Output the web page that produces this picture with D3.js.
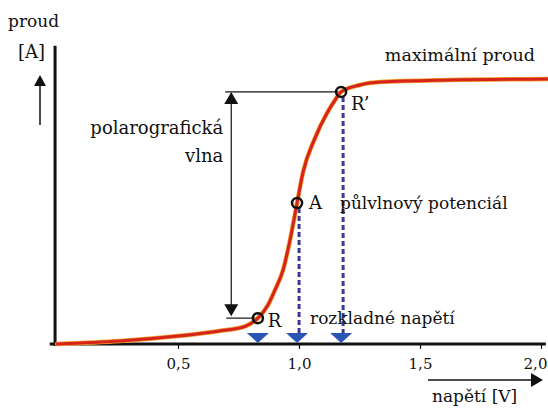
<!DOCTYPE html>
<html>
<head>
<meta charset="utf-8">
<script src="https://cdn.jsdelivr.net/npm/d3@7"></script>
<style>
  body { margin: 0; background: #fff; }
  text { font-family: "DejaVu Serif", serif; font-size: 17px; fill: #111; }
</style>
</head>
<body>
<figure id="chart" style="margin:0"></figure>
<script>
// polarographic wave: voltage [V] vs current (relative to limiting current)
const voltage = [0, 0.26, 0.5, 0.67, 0.78, 0.83, 0.872, 0.901, 0.934, 0.963, 0.992, 1.017, 1.066, 1.116, 1.149, 1.174, 1.252, 1.335, 1.62, 2.04]
const current = [0, 0.011, 0.03, 0.049, 0.068, 0.098, 0.148, 0.205, 0.28, 0.394, 0.534, 0.652, 0.78, 0.875, 0.924, 0.955, 0.981, 0.992, 1.0, 1.004]

const pointLabels = ["R", "A", "R’"]
const pointVoltage = [0.83, 0.992, 1.174]
const pointCurrent = [0.098, 0.534, 0.955]
const pointNotes = ["rozkladné napětí", "půlvlnový potenciál", ""]

const xTicks = [0.5, 1.0, 1.5, 2.0]
const xTickLabels = ["0,5", "1,0", "1,5", "2,0"]

const width = 548, height = 408

const svg = d3.select("#chart").append("svg")
  .attr("width", width).attr("height", height)

const x = d3.scaleLinear().domain([0, 2]).range([57, 541])
const y = d3.scaleLinear().domain([0, 1]).range([344, 80])

// axes
svg.append("line")
  .attr("x1", x(-0.03)).attr("x2", x(2.02))
  .attr("y1", y(0)).attr("y2", y(0))
  .attr("stroke", "#111").attr("stroke-width", 3)

svg.append("line")
  .attr("x1", x(-0.008)).attr("x2", x(-0.008))
  .attr("y1", y(0) + 2).attr("y2", y(1.13))
  .attr("stroke", "#111").attr("stroke-width", 3)

const xAxis = svg.append("g")
  .attr("transform", `translate(0,${y(0)})`)
  .call(d3.axisBottom(x).tickValues(xTicks).tickSize(5).tickFormat((d, i) => xTickLabels[i]))
xAxis.select(".domain").remove()
xAxis.selectAll(".tick line").attr("stroke", "#111").attr("stroke-width", 1.2)
xAxis.selectAll(".tick text")
  .attr("y", 14)
  .attr("dx", (d, i) => i === xTicks.length - 1 ? -6 : 0)
  .style("font-family", "DejaVu Serif, serif").style("font-size", "15px").attr("fill", "#111")

// dashed drop lines (A, R')
svg.selectAll(".drop")
  .data([1, 2])
  .enter().append("line")
  .attr("x1", i => x(pointVoltage[i]) + 2).attr("x2", i => x(pointVoltage[i]) + 2)
  .attr("y1", i => y(pointCurrent[i]) + 5).attr("y2", y(0) - 4)
  .attr("stroke", "#3b3a8f").attr("stroke-width", 3)
  .attr("stroke-dasharray", "5,3")

// blue markers on the axis
svg.selectAll(".tri")
  .data(pointVoltage)
  .enter().append("path")
  .attr("d", d => `M${x(d) - 11},${y(0) - 11} L${x(d) + 11},${y(0) - 11} L${x(d)},${y(0) - 1} Z`)
  .attr("fill", "#2a55b5")

// bracket for the wave height
const bracketV = 0.72
const bx = x(bracketV)
svg.append("line")
  .attr("x1", bx - 6).attr("x2", x(pointVoltage[2]))
  .attr("y1", y(pointCurrent[2])).attr("y2", y(pointCurrent[2]))
  .attr("stroke", "#111").attr("stroke-width", 1.2)
svg.append("line")
  .attr("x1", bx - 5).attr("x2", x(pointVoltage[0]))
  .attr("y1", y(pointCurrent[0])).attr("y2", y(pointCurrent[0]))
  .attr("stroke", "#111").attr("stroke-width", 1.2)
svg.append("line")
  .attr("x1", bx).attr("x2", bx)
  .attr("y1", y(pointCurrent[2]) + 4).attr("y2", y(pointCurrent[0]) - 4)
  .attr("stroke", "#111").attr("stroke-width", 1.2)
svg.append("path")
  .attr("d", `M${bx},${y(pointCurrent[2])} l-7,12 l14,0 Z`).attr("fill", "#111")
svg.append("path")
  .attr("d", `M${bx},${y(pointCurrent[0]) - 2} l-7,-12 l14,0 Z`).attr("fill", "#111")

// curve
const line = d3.line()
  .x(i => x(voltage[i]))
  .y(i => y(current[i]))
  .curve(d3.curveMonotoneX)

svg.append("path")
  .datum(d3.range(voltage.length))
  .attr("d", line)
  .attr("fill", "none")
  .attr("stroke", "#f0a030").attr("stroke-width", 4.5)
  .attr("stroke-linecap", "round")
svg.append("path")
  .datum(d3.range(voltage.length))
  .attr("d", line)
  .attr("fill", "none")
  .attr("stroke", "#d8231a").attr("stroke-width", 3)
  .attr("stroke-linecap", "round")

// points
svg.selectAll(".pt")
  .data(pointVoltage)
  .enter().append("circle")
  .attr("cx", d => x(d))
  .attr("cy", (d, i) => y(pointCurrent[i]))
  .attr("r", 5)
  .attr("fill", "none")
  .attr("stroke", "#111").attr("stroke-width", 2.5)

const labelOffset = [[10, 9], [12, 6], [10, 18]]
svg.selectAll(".plabel")
  .data(pointLabels)
  .enter().append("text")
  .attr("x", (d, i) => x(pointVoltage[i]) + labelOffset[i][0])
  .attr("y", (d, i) => y(pointCurrent[i]) + labelOffset[i][1])
  .style("font-size", "18px")
  .text(d => d)

svg.append("text").attr("x", 310).attr("y", 324).text(pointNotes[0])
svg.append("text").attr("x", 340).attr("y", 209).text(pointNotes[1])
svg.append("text").attr("x", 535).attr("y", 61).attr("text-anchor", "end").style("font-size", "17.5px").text("maximální proud")

svg.append("text").attr("x", bx - 8).attr("y", 134).attr("text-anchor", "end").style("font-size", "18px").text("polarografická")
svg.append("text").attr("x", bx - 8).attr("y", 162).attr("text-anchor", "end").style("font-size", "18px").text("vlna")

// axis titles with arrows
svg.append("text").attr("x", 8).attr("y", 27).text("proud")
svg.append("text").attr("x", 18).attr("y", 58).style("font-size", "18px").text("[A]")
svg.append("line").attr("x1", 40).attr("x2", 40).attr("y1", 85).attr("y2", 125)
  .attr("stroke", "#111").attr("stroke-width", 1.5)
svg.append("path").attr("d", "M40,75 l-6,11 l12,0 Z").attr("fill", "#111")

svg.append("line").attr("x1", 428).attr("x2", 532).attr("y1", 380).attr("y2", 380)
  .attr("stroke", "#111").attr("stroke-width", 1.5)
svg.append("path").attr("d", "M543,380 l-12,-7 l0,14 Z").attr("fill", "#111")
svg.append("text").attr("x", 432).attr("y", 402).text("napětí  [V]")
</script>
</body>
</html>
